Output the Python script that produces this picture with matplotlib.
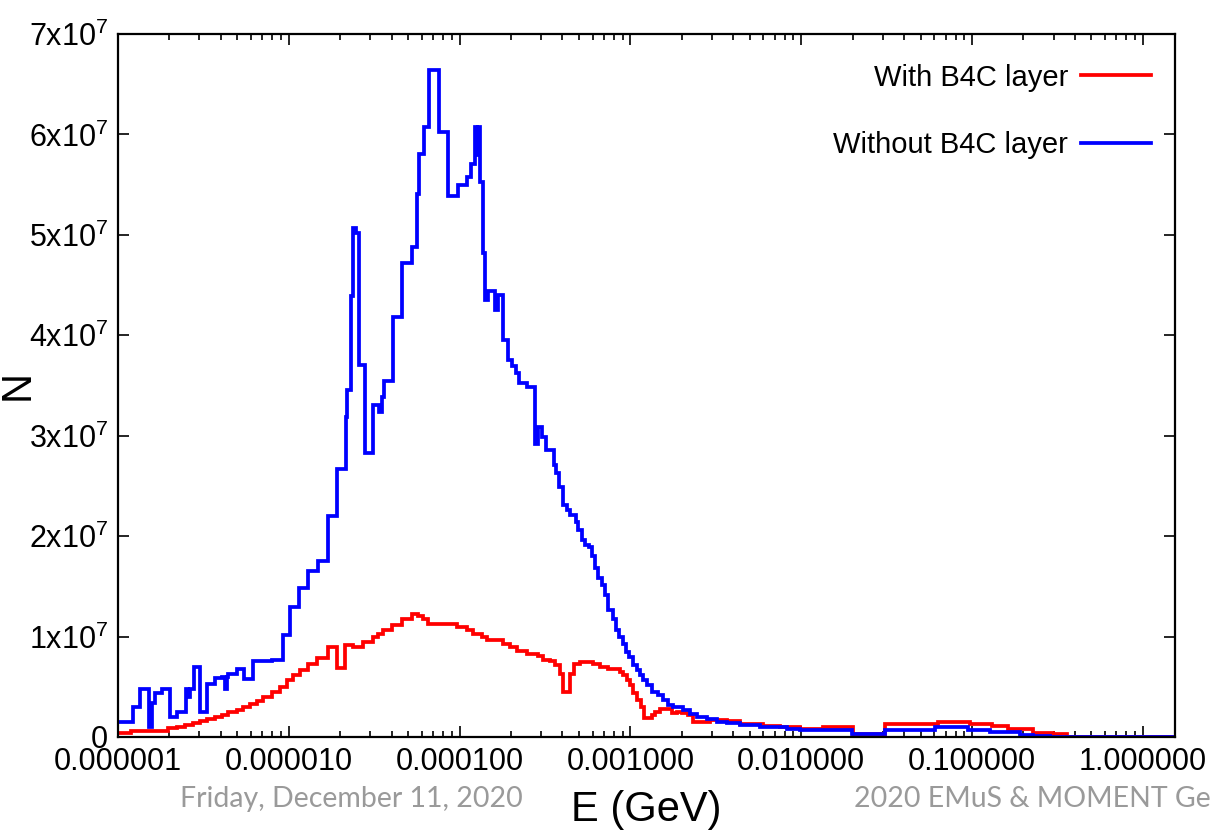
import numpy as np
import matplotlib
matplotlib.use("Agg")
import matplotlib.pyplot as plt

plt.rcParams['font.family'] = ['Liberation Sans', 'DejaVu Sans']
plt.rcParams['mathtext.fontset'] = 'custom'
plt.rcParams['mathtext.rm'] = 'Liberation Sans'
plt.rcParams['mathtext.it'] = 'Liberation Sans:italic'

# ---- data: histogram bin edges given as log10(E / GeV), counts in units of 1e7 ----
blue_log10_edges = [
    -6.000, -5.910, -5.871, -5.817, -5.801, -5.783, -5.744, -5.696, -5.653, -5.602,
    -5.588, -5.576, -5.555, -5.520, -5.477, -5.432, -5.393, -5.374, -5.364, -5.354,
    -5.305, -5.262, -5.208, -5.100, -5.036, -4.993, -4.939, -4.886, -4.827, -4.769,
    -4.716, -4.665, -4.657, -4.638, -4.626, -4.607, -4.587, -4.554, -4.507, -4.472,
    -4.454, -4.443, -4.392, -4.339, -4.280, -4.248, -4.236, -4.208, -4.177, -4.119,
    -4.066, -4.008, -3.958, -3.935, -3.910, -3.898, -3.892, -3.881, -3.865, -3.851,
    -3.832, -3.793, -3.773, -3.744, -3.715, -3.695, -3.670, -3.650, -3.607, -3.559,
    -3.539, -3.519, -3.494, -3.447, -3.436, -3.416, -3.393, -3.373, -3.354, -3.319,
    -3.305, -3.285, -3.266, -3.241, -3.227, -3.207, -3.188, -3.168, -3.149, -3.129,
    -3.104, -3.084, -3.065, -3.045, -3.026, -3.006, -2.983, -2.963, -2.944, -2.924,
    -2.901, -2.875, -2.837, -2.807, -2.778, -2.749, -2.690, -2.651, -2.612, -2.553,
    -2.495, -2.436, -2.358, -2.241, -2.085, -2.007, -1.704, -1.509, -1.217, -1.022,
    -0.895, -0.719, -0.641, -0.543, 0.188,
]
blue_counts = [
    0.145, 0.30, 0.475, 0.10, 0.34, 0.435, 0.475, 0.196, 0.246, 0.48,
    0.40, 0.48, 0.70, 0.246, 0.528, 0.585, 0.60, 0.48, 0.60, 0.627,
    0.68, 0.575, 0.757, 0.77, 1.02, 1.29, 1.48, 1.65, 1.75, 2.20,
    2.67, 3.19, 3.46, 4.39, 5.07, 5.02, 3.70, 2.83, 3.31, 3.24,
    3.39, 3.54, 4.18, 4.72, 4.88, 5.41, 5.81, 6.07, 6.64, 6.02,
    5.39, 5.50, 5.58, 5.71, 6.07, 5.80, 6.07, 5.53, 4.82, 4.35,
    4.44, 4.25, 4.40, 3.95, 3.75, 3.69, 3.62, 3.52, 3.49, 2.92,
    3.09, 2.99, 2.86, 2.71, 2.63, 2.49, 2.31, 2.26, 2.21, 2.14,
    2.06, 1.96, 1.91, 1.89, 1.80, 1.68, 1.58, 1.51, 1.41, 1.26,
    1.17, 1.07, 1.00, 0.93, 0.85, 0.80, 0.72, 0.67, 0.62, 0.57,
    0.52, 0.45, 0.42, 0.37, 0.32, 0.30, 0.27, 0.23, 0.20, 0.18,
    0.15, 0.14, 0.12, 0.097, 0.083, 0.065, 0.027, 0.07, 0.095, 0.07,
    0.047, 0.02, 0.01, 0.0,
]

red_log10_edges = [
    -6.000, -5.924, -5.707, -5.655, -5.608, -5.561, -5.520, -5.479, -5.432, -5.391,
    -5.356, -5.303, -5.268, -5.227, -5.186, -5.151, -5.098, -5.052, -5.011, -4.975,
    -4.934, -4.888, -4.835, -4.769, -4.716, -4.671, -4.622, -4.564, -4.505, -4.476,
    -4.447, -4.398, -4.339, -4.280, -4.242, -4.213, -4.183, -4.017, -3.958, -3.920,
    -3.871, -3.841, -3.744, -3.705, -3.666, -3.607, -3.539, -3.510, -3.471, -3.441,
    -3.412, -3.396, -3.354, -3.330, -3.295, -3.217, -3.178, -3.129, -3.061, -3.042,
    -3.022, -3.002, -2.983, -2.960, -2.940, -2.920, -2.875, -2.856, -2.827, -2.758,
    -2.729, -2.700, -2.661, -2.632, -2.534, -2.436, -2.358, -2.222, -2.124, -2.007,
    -1.871, -1.695, -1.509, -1.197, -1.012, -0.885, -0.788, -0.641, -0.524, -0.446,
    0.188,
]
red_counts = [
    0.037, 0.06, 0.087, 0.103, 0.12, 0.136, 0.16, 0.18, 0.196, 0.22,
    0.25, 0.27, 0.30, 0.33, 0.36, 0.40, 0.45, 0.50, 0.57, 0.62,
    0.67, 0.73, 0.79, 0.90, 0.69, 0.92, 0.90, 0.95, 1.00, 1.03,
    1.07, 1.12, 1.17, 1.225, 1.20, 1.17, 1.13, 1.10, 1.07, 1.03,
    1.00, 0.97, 0.93, 0.90, 0.86, 0.83, 0.81, 0.77, 0.76, 0.72,
    0.63, 0.45, 0.63, 0.73, 0.75, 0.73, 0.70, 0.68, 0.65, 0.62,
    0.57, 0.52, 0.44, 0.37, 0.30, 0.19, 0.22, 0.25, 0.28, 0.24,
    0.25, 0.24, 0.22, 0.15, 0.17, 0.16, 0.13, 0.11, 0.097, 0.077,
    0.097, 0.027, 0.13, 0.15, 0.13, 0.11, 0.077, 0.043, 0.027, 0.0,
]
count_scale = 1e7

series_labels = ["With B4C layer", "Without B4C layer"]
x_tick_values = [1e-6, 1e-5, 1e-4, 1e-3, 1e-2, 1e-1, 1e0]
x_tick_labels = ["0.000001", "0.000010", "0.000100", "0.001000",
                 "0.010000", "0.100000", "1.000000"]
y_tick_values = [0, 1e7, 2e7, 3e7, 4e7, 5e7, 6e7, 7e7]
y_tick_labels = ["0", "1x10$^{7}$", "2x10$^{7}$", "3x10$^{7}$", "4x10$^{7}$",
                 "5x10$^{7}$", "6x10$^{7}$", "7x10$^{7}$"]
footer_left = "Friday, December 11, 2020"
footer_right = "2020 EMuS & MOMENT Ge"

# ---- figure ----
fig = plt.figure(figsize=(12.12, 8.36), dpi=100)
ax = fig.add_axes([118 / 1212, 1 - 737 / 836, (1175 - 118) / 1212, (737 - 34) / 836])


def step_xy(log_edges, counts):
    e = 10.0 ** np.asarray(log_edges)
    c = np.asarray(counts) * count_scale
    return e, np.append(c, c[-1])


rx, ry = step_xy(red_log10_edges, red_counts)
bx, by = step_xy(blue_log10_edges, blue_counts)
ax.plot(rx, ry, drawstyle='steps-post', color='#ff0000', lw=2.7,
        label=series_labels[0], solid_joinstyle='miter')
ax.plot(bx, by, drawstyle='steps-post', color='#0000ff', lw=2.7,
        label=series_labels[1], solid_joinstyle='miter')

ax.set_xscale('log')
ax.set_xlim(10.0 ** red_log10_edges[0], 10.0 ** red_log10_edges[-1])
ax.set_ylim(0, 7e7)

ax.set_xticks(x_tick_values)
ax.set_xticklabels(x_tick_labels)
ax.set_yticks(y_tick_values)
ax.set_yticklabels(y_tick_labels)
ax.yaxis.set_minor_locator(matplotlib.ticker.NullLocator())

ax.tick_params(which='both', direction='in', top=True, right=True, labelsize=22, width=1.2)
ax.tick_params(which='major', length=8, pad=7)
ax.tick_params(which='minor', length=4.5)
for s in ax.spines.values():
    s.set_linewidth(1.6)

ax.set_xlabel("E (GeV)", fontsize=30)
ax.set_ylabel("N", fontsize=30)
ax.xaxis.set_label_coords(0.5, -0.076)
ax.yaxis.set_label_coords(-0.076, 0.5)

leg = ax.legend(loc='upper right', frameon=False, fontsize=21, markerfirst=False,
                handlelength=2.4, handletextpad=0.45, labelspacing=1.36,
                borderpad=0.4, borderaxespad=0.75,
                bbox_to_anchor=(1.0 + 10 / 1057, 1.0 + 4 / 703))

fig.text(351 / 1212, (836 - 799) / 836, footer_left, ha='center', va='center',
         fontsize=20.5, color='#9a9a9a', family=['Lato', 'DejaVu Sans'])
fig.text(0.999, (836 - 799) / 836, footer_right, ha='right', va='center',
         fontsize=20.5, color='#9a9a9a', family=['Lato', 'DejaVu Sans'])

fig.savefig("out.png", dpi=100)
